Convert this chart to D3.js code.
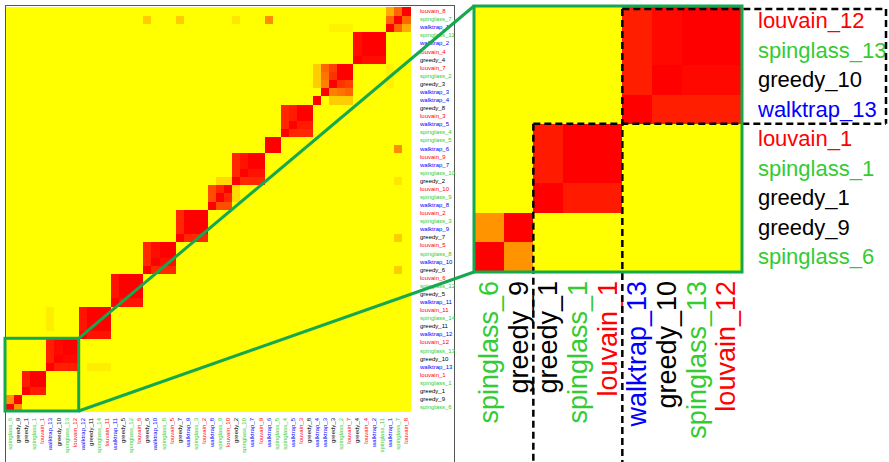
<!DOCTYPE html>
<html>
<head>
<meta charset="utf-8">
<script src="https://cdn.jsdelivr.net/npm/d3@7"></script>
<style>
  body { margin: 0; background: #fff; }
  text { font-family: "Liberation Sans", Arial, sans-serif; }
</style>
</head>
<body>
<div id="chart"></div>
<script>
// column order (left to right); rows are the same list read bottom to top
const labels = [
  "spinglass_6", "greedy_9", "greedy_1", "spinglass_1", "louvain_1",
  "walktrap_13", "greedy_10", "spinglass_13", "louvain_12",
  "walktrap_12", "greedy_11", "spinglass_14", "louvain_11",
  "walktrap_11", "greedy_5", "spinglass_12", "louvain_6",
  "greedy_6", "walktrap_10", "spinglass_8", "louvain_5",
  "greedy_7", "walktrap_9", "spinglass_3", "louvain_2",
  "walktrap_8", "spinglass_9", "louvain_10",
  "greedy_2", "spinglass_10", "walktrap_7", "louvain_9",
  "walktrap_6", "spinglass_5",
  "spinglass_4", "walktrap_5", "louvain_3", "greedy_8",
  "walktrap_4",
  "walktrap_3", "greedy_3", "spinglass_2", "louvain_7",
  "greedy_4", "louvain_4", "walktrap_2", "spinglass_11",
  "walktrap_1", "spinglass_7", "louvain_8"
];

// diagonal blocks: members and their similarity values
const blockMembers = [
  ["spinglass_6", "greedy_9"],
  ["greedy_1", "spinglass_1", "louvain_1"],
  ["walktrap_13", "greedy_10", "spinglass_13", "louvain_12"],
  ["walktrap_12", "greedy_11", "spinglass_14", "louvain_11"],
  ["walktrap_11", "greedy_5", "spinglass_12", "louvain_6"],
  ["greedy_6", "walktrap_10", "spinglass_8", "louvain_5"],
  ["greedy_7", "walktrap_9", "spinglass_3", "louvain_2"],
  ["walktrap_8", "spinglass_9", "louvain_10"],
  ["greedy_2", "spinglass_10", "walktrap_7", "louvain_9"],
  ["walktrap_6", "spinglass_5"],
  ["spinglass_4", "walktrap_5", "louvain_3", "greedy_8"],
  ["walktrap_4"],
  ["walktrap_3", "greedy_3", "spinglass_2", "louvain_7"],
  ["greedy_4", "louvain_4", "walktrap_2", "spinglass_11"],
  ["walktrap_1", "spinglass_7", "louvain_8"]
];
const blockValues = [
  [[1, .42], [.42, 1]],
  [[1, .9, .9], [.9, 1, 1], [.9, 1, 1]],
  [[1, .88, .88, .88], [.88, 1, .97, .97], [.88, .97, 1, 1], [.88, .97, 1, 1]],
  [[1, .93, .93, .93], [.93, 1, 1, 1], [.93, 1, 1, 1], [.93, 1, 1, 1]],
  [[1, .93, .93, .93], [.93, 1, 1, 1], [.93, 1, 1, 1], [.93, 1, 1, 1]],
  [[1, .85, .85, .85], [.85, 1, .95, .95], [.85, .95, 1, 1], [.85, .95, 1, 1]],
  [[1, .85, .85, .85], [.85, 1, 1, 1], [.85, 1, 1, 1], [.85, 1, 1, 1]],
  [[1, .7, .7], [.7, 1, .85], [.7, .85, 1]],
  [[1, .85, .85, .85], [.85, 1, .93, .93], [.85, .93, 1, 1], [.85, .93, 1, 1]],
  [[1, 1], [1, 1]],
  [[1, .85, .85, .85], [.85, 1, .9, .9], [.85, .9, 1, 1], [.85, .9, 1, 1]],
  [[1]],
  [[1, .5, .55, .6], [.5, 1, .8, .75], [.55, .8, 1, 1], [.6, .75, 1, 1]],
  [[1, .95, .95, .95], [.95, 1, 1, 1], [.95, 1, 1, 1], [.95, 1, 1, 1]],
  [[1, .6, .33], [.6, 1, .6], [.33, .6, 1]]
];
// weak similarities outside the blocks
const weakLinks = [
  ["walktrap_13", "greedy_11", .07], ["walktrap_13", "spinglass_14", .07], ["walktrap_13", "louvain_11", .07],
  ["walktrap_1", "greedy_3", .05], ["walktrap_1", "spinglass_2", .05], ["walktrap_1", "louvain_7", .05],
  ["walktrap_4", "greedy_3", .2], ["walktrap_4", "spinglass_2", .2], ["walktrap_4", "louvain_7", .2],
  ["greedy_2", "spinglass_9", .15], ["greedy_2", "louvain_10", .15],
  ["spinglass_7", "walktrap_6", .45], ["spinglass_7", "greedy_7", .2],
  ["spinglass_7", "greedy_6", .2], ["spinglass_7", "greedy_2", .1]
];
const zoomCount = 9; // first nine columns are magnified on the right

const algoColor = { louvain: "#ff0000", spinglass: "#33cc33", walktrap: "#0000ff", greedy: "#000000" };
const colorOf = l => algoColor[l.split("_")[0]];

// build the matrix
const value = {};
labels.forEach(a => labels.forEach(b => value[a + "|" + b] = 0));
blockMembers.forEach((mem, k) => {
  mem.forEach((a, i) => mem.forEach((b, j) => value[a + "|" + b] = blockValues[k][i][j]));
});
weakLinks.forEach(([a, b, v]) => { value[a + "|" + b] = v; value[b + "|" + a] = v; });

const cells = [];
labels.forEach(r => labels.forEach(c => cells.push({ r, c, v: value[r + "|" + c] })));

const width = 889, height = 462;
const svg = d3.select("#chart").append("svg")
  .attr("width", width).attr("height", height);

const heat = d3.scaleLinear().domain([0, 1]).range(["#ffff00", "#ff0000"]);

// ---- main heatmap
const x = d3.scaleBand().domain(labels).range([6, 410]);
const y = d3.scaleBand().domain(labels.slice().reverse()).range([7, 411]);

svg.append("rect")
  .attr("x", 5.5).attr("y", 5.5).attr("width", 449).attr("height", 470)
  .attr("fill", "none").attr("stroke", "#555").attr("stroke-width", 1);

svg.append("g").attr("shape-rendering", "crispEdges")
  .selectAll("rect").data(cells).join("rect")
  .attr("x", d => x(d.c)).attr("y", d => y(d.r))
  .attr("width", x.bandwidth() + 0.6).attr("height", y.bandwidth() + 0.6)
  .attr("fill", d => heat(d.v));

svg.append("g").selectAll("text").data(labels).join("text")
  .attr("x", 420).attr("y", d => y(d) + y.bandwidth() / 2)
  .attr("dy", "0.35em").attr("font-size", 6)
  .attr("fill", colorOf).text(d => d);

svg.append("g").selectAll("text").data(labels).join("text")
  .attr("transform", d => `translate(${x(d) + x.bandwidth() / 2 + 2},418) rotate(-90)`)
  .attr("text-anchor", "end").attr("font-size", 6)
  .attr("fill", colorOf).text(d => d);

// ---- magnified panel
const sub = labels.slice(0, zoomCount);
const xp = d3.scaleBand().domain(sub).range([474, 741]);
const yp = d3.scaleBand().domain(sub.slice().reverse()).range([6, 271]);
const subCells = cells.filter(d => sub.includes(d.r) && sub.includes(d.c));

svg.append("g").attr("shape-rendering", "crispEdges")
  .selectAll("rect").data(subCells).join("rect")
  .attr("x", d => xp(d.c)).attr("y", d => yp(d.r))
  .attr("width", xp.bandwidth() + 0.6).attr("height", yp.bandwidth() + 0.6)
  .attr("fill", d => heat(d.v));

svg.append("g").selectAll("text").data(sub).join("text")
  .attr("x", 758).attr("y", d => yp(d) + yp.bandwidth() / 2)
  .attr("dy", "0.35em").attr("font-size", 22)
  .attr("fill", colorOf).text(d => d);

svg.append("g").selectAll("text").data(sub).join("text")
  .attr("transform", d => `translate(${xp(d) + xp.bandwidth() / 2 + 9},281) rotate(-90)`)
  .attr("text-anchor", "end").attr("font-size", 27)
  .attr("fill", colorOf).text(d => d);

// dashed outlines of the two blocks in the panel
const bx1 = xp(sub[2]), bx2 = xp(sub[5]), by = yp(sub[4]);
const dashed = [
  [[bx2, 9], [886, 9]],
  [[886, 9], [886, by]],
  [[bx1, by], [886, by]],
  [[bx2, 9], [bx2, height]],
  [[bx1, by], [bx1, height]]
];
svg.append("g").selectAll("path").data(dashed).join("path")
  .attr("d", d => d3.line()(d))
  .attr("stroke", "#000").attr("stroke-width", 2.5)
  .attr("stroke-dasharray", "7,4").attr("fill", "none");

// green zoom frame + connectors
const green = "#14a84f";
const sx0 = x(sub[0]), sx1 = x(sub[zoomCount - 1]) + x.bandwidth();
const sy0 = y(sub[zoomCount - 1]), sy1 = y(sub[0]) + y.bandwidth();
svg.append("rect")
  .attr("x", sx0 - 1).attr("y", sy0).attr("width", sx1 - sx0 + 1).attr("height", sy1 - sy0)
  .attr("fill", "none").attr("stroke", green).attr("stroke-width", 3);
svg.append("rect")
  .attr("x", 474).attr("y", 6).attr("width", 268).attr("height", 266)
  .attr("fill", "none").attr("stroke", green).attr("stroke-width", 3);
svg.append("path").attr("d", d3.line()([[sx1, sy0], [474, 6]]))
  .attr("stroke", green).attr("stroke-width", 3);
svg.append("path").attr("d", d3.line()([[sx1, sy1], [474, 272]]))
  .attr("stroke", green).attr("stroke-width", 3);
</script>
</body>
</html>
